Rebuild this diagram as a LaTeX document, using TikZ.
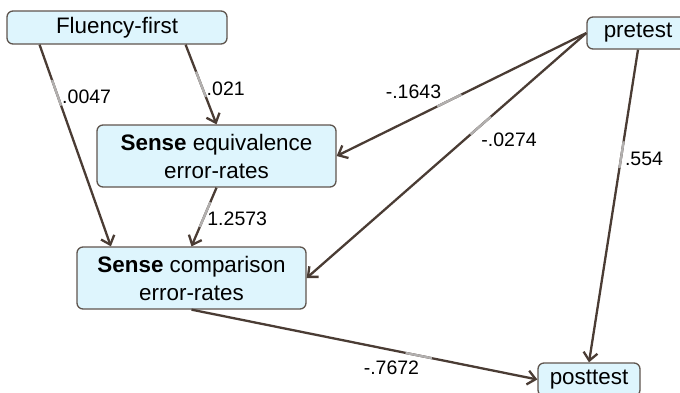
\documentclass[tikz,border=0pt]{standalone}
\usepackage{fontspec}
\setmainfont{Liberation Sans}
\usepackage{tikz}
\usetikzlibrary{arrows.meta}
\usetikzlibrary{calc}
\definecolor{boxfill}{RGB}{222,245,253}
\definecolor{boxline}{RGB}{95,85,78}
\definecolor{linkbrown}{RGB}{74,60,52}
\definecolor{fadegray}{RGB}{178,176,175}
\newcommand{\vnode}[5]{\node(#1)[var,minimum width=#3pt,minimum height=#4pt] at (#2){#5}}
\newcommand{\coef}[5]{%
  \draw[link] (#1) -- (#2) coordinate[pos=#3] (lbl) node[pos=#3,anchor=#4,coeflabel]{#5};
  \draw[fade] ($(lbl)!18pt!(#1)$) -- ($(lbl)!9pt!(#2)$)}

\begin{document}
\begin{tikzpicture}[
        x=1pt, y=-1pt,
        var/.style={rectangle,rounded corners=6pt,draw=boxline,fill=boxfill,
                    line width=1.3pt,align=center,inner sep=2pt,
                    font=\fontsize{22.4}{28}\selectfont},
        link/.style={draw=linkbrown,line width=2.3pt,
                     -{Straight Barb[length=8pt,width=14pt]}},
        fade/.style={draw=fadegray,line width=2.3pt},
        coeflabel/.style={inner sep=3pt,font=\fontsize{19.5}{22}\selectfont}
      ]
      \useasboundingbox (0,0) rectangle (680,392);

      \vnode{fluency}{117,27.5}{220}{33}{Fluency-first};
      \vnode{pretest}{638,33}{102}{32}{pretest};
      \vnode{equiv}{216.5,156}{239}{62}{\textbf{Sense} equivalence\\error-rates};
      \vnode{comp}{191.5,278}{229}{62}{\textbf{Sense} comparison\\error-rates};
      \vnode{posttest}{589,379.5}{102}{33}{posttest};

      % ends of the two links that leave Fluency-first off centre
      \coordinate (fluencyL) at ($(fluency.south west)!0.15!(fluency.south east)$);
      \coordinate (fluencyR) at ($(fluency.south west)!0.81!(fluency.south east)$);
      \coordinate (compL) at ($(comp.north west)!0.15!(comp.north east)$);

      \coef{fluencyL}{compL}{0.26}{west}{.0047};
      \coef{fluencyR}{equiv.north}{0.55}{west}{.021};
      \coef{equiv.south}{comp.north}{0.53}{west}{1.2573};
      \coef{pretest.west}{equiv.east}{0.565}{south east}{-.1643};
      \coef{pretest.west}{comp.east}{0.39}{north west}{-.0274};
      \coef{pretest.south}{posttest.north}{0.35}{west}{.554};
      \coef{comp.south}{posttest.west}{0.67}{north east}{-.7672};
    \end{tikzpicture}
\end{document}
